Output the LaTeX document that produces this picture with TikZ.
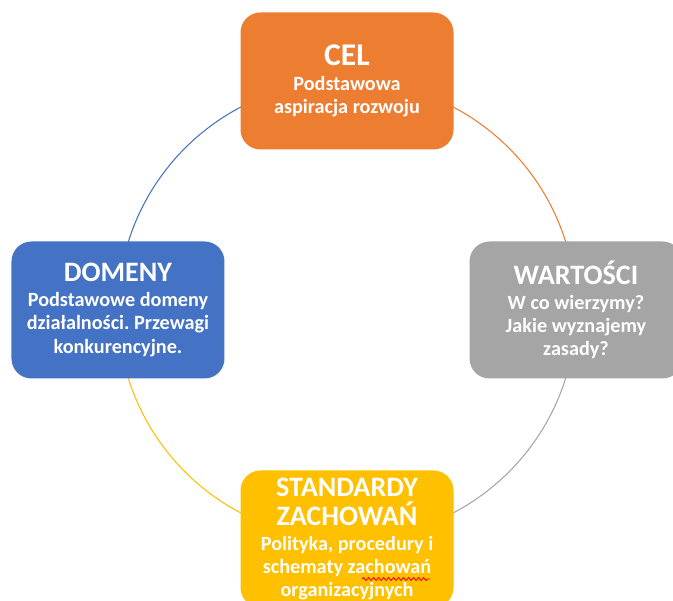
\documentclass[tikz,border=0pt]{standalone}
\usepackage{fontspec}
\setmainfont{Carlito}
\usetikzlibrary{backgrounds,decorations.pathmorphing}
\definecolor{celorange}{HTML}{ED7D31}
\definecolor{wartgray}{HTML}{A5A5A5}
\definecolor{stdyellow}{HTML}{FFC000}
\definecolor{domblue}{HTML}{4472C4}
\frenchspacing
\begin{document}
\begin{tikzpicture}[
    box/.style={rounded corners=.4cm, minimum width=4.26cm, minimum height=2.74cm,
      align=center, inner sep=0pt, text=white,
      font=\bfseries\fontsize{11.5}{13.2}\selectfont},
    ring/.style={line width=.6pt}
  ]
    \useasboundingbox (-6.94,-5.82) rectangle (6.52,6.2);
    \clip (-6.94,-5.82) rectangle (6.52,6.2);

    \node[box, fill=celorange] (cel) at (90:4.58)
      {{\fontsize{18}{20}\selectfont CEL}\\[1pt]Podstawowa\\aspiracja rozwoju};
    \node[box, fill=wartgray] (wart) at (0:4.58)
      {{\fontsize{16}{18}\selectfont WARTOŚCI}\\[1pt]W co wierzymy?\\Jakie wyznajemy\\zasady?};
    \node[box, fill=stdyellow] (std) at (270:4.58)
      {{\fontsize{16}{18}\selectfont STANDARDY}\\[2pt]{\fontsize{16}{18}\selectfont ZACHOWAŃ}\\[1pt]Polityka, procedury i\\schematy zachowań\\organizacyjnych};
    \node[box, fill=domblue] (dom) at (180:4.58)
      {{\fontsize{16}{18}\selectfont DOMENY}\\[1pt]Podstawowe domeny\\działalności. Przewagi\\konkurencyjne.};

    % ring between the boxes
    \begin{scope}[on background layer]
      \foreach \n/\a/\c in {cel/90/celorange, wart/0/wartgray, std/270/stdyellow, dom/180/domblue}
        \draw[ring, \c] (\n.center) arc[start angle=\a, delta angle=-90, radius=4.58];
    \end{scope}

    % spelling mark
    \draw[red, line width=.5pt, decorate, decoration={snake, amplitude=.3mm, segment length=1mm}]
      (.30,-5.38) -- (1.66,-5.38);
\end{tikzpicture}
\end{document}
